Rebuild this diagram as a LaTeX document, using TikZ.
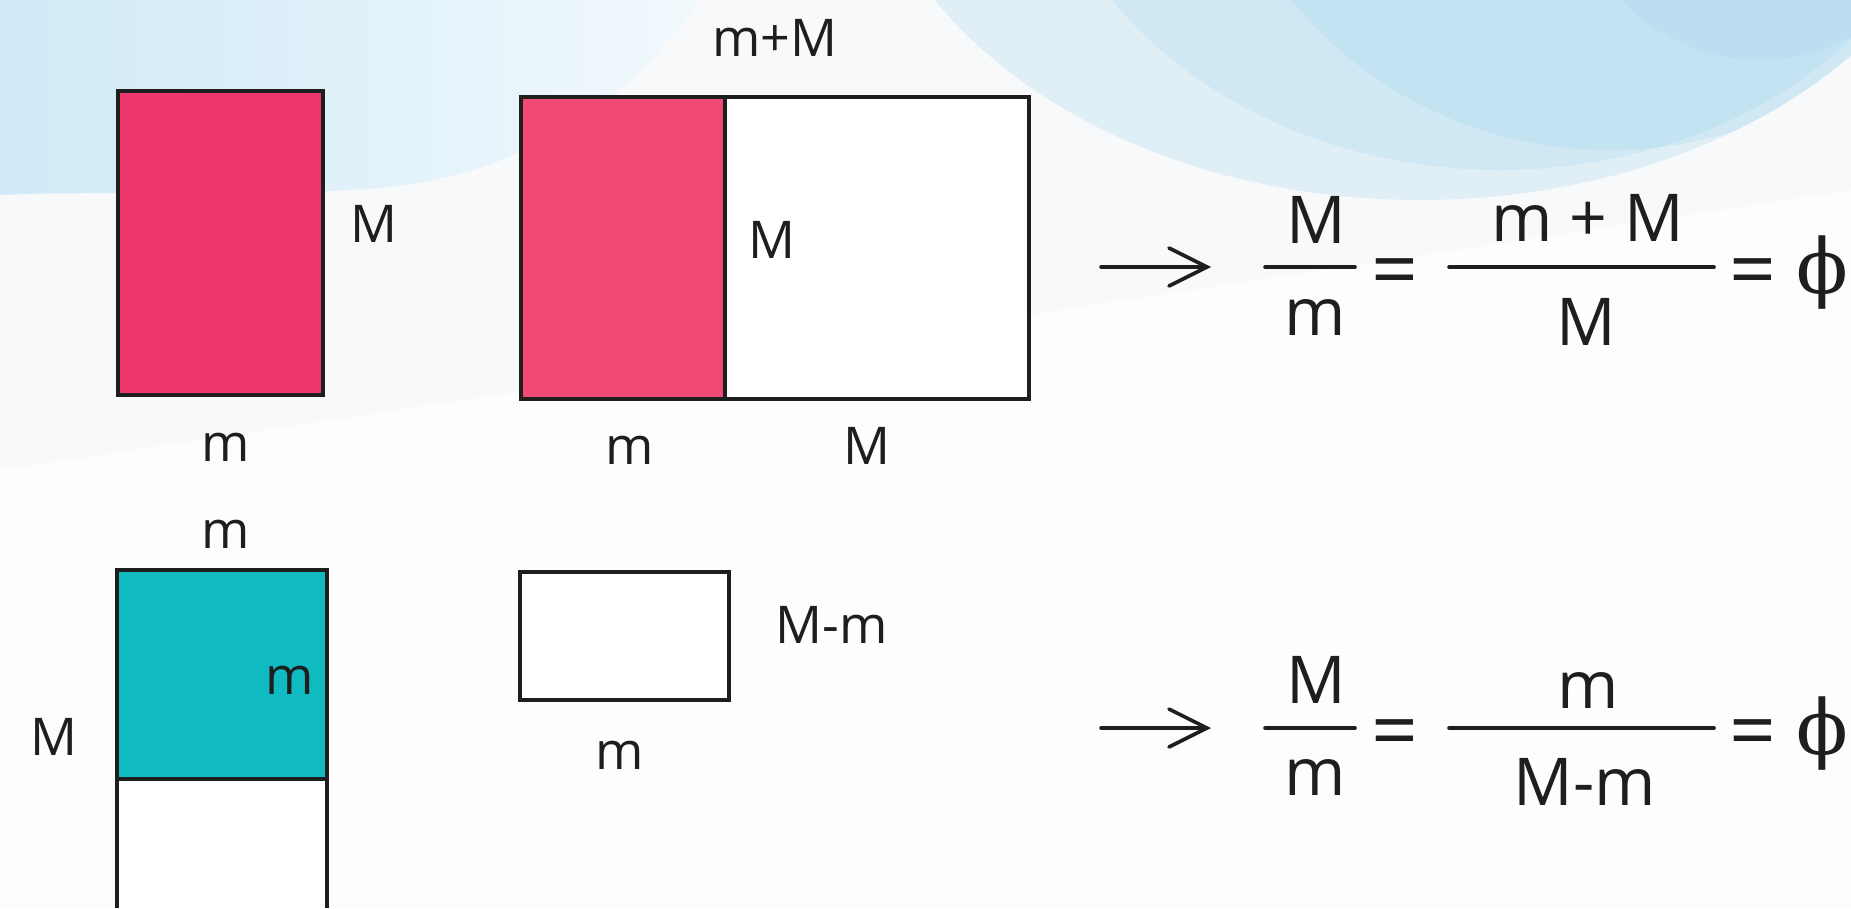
\documentclass[tikz,border=0pt]{standalone}
\usepackage{fontspec}
\setmainfont{Open Sans}
\newfontfamily\phifont{DejaVu Serif}
\usetikzlibrary{arrows.meta}
\definecolor{sketchink}{HTML}{1E1E1E}
\definecolor{goldpink}{HTML}{EE376D}
\definecolor{goldpinklight}{HTML}{F04973}
\definecolor{goldteal}{HTML}{0FBBC1}
\definecolor{washblue}{HTML}{A9D8F0}
\definecolor{haze}{HTML}{F8F9FA}
\definecolor{paper}{HTML}{FDFDFD}

\begin{document}
\begin{tikzpicture}[x=1pt,y=-1pt,
    lbl/.style={inner sep=0pt,text=sketchink,font=\fontsize{52}{56}\selectfont},
    eqn/.style={inner sep=0pt,text=sketchink,font=\fontsize{66}{70}\selectfont},
    eqsign/.style={inner sep=0pt,text=sketchink,font=\fontsize{82}{86}\selectfont},
    edge/.style={draw=sketchink,line width=3.2pt},
    fracbar/.style={draw=sketchink,line width=3.6pt,line cap=round},
    wash/.style={fill=washblue,opacity=.3}]
    \useasboundingbox (0,0) rectangle (1851,908);
    \fill[paper] (0,0) rectangle (1851,908);
    % watercolour in the background
    \fill[haze] (0,0) -- (1851,0) -- (1851,190) -- (0,470) -- cycle;
    \shade[left color=washblue!55!white,right color=washblue!16!white]
      (0,0) -- (700,0) .. controls (650,70) and (560,170) .. (380,188)
      .. controls (250,198) and (100,190) .. (0,195) -- cycle;
    \begin{scope}
      \clip (1420,-200) ellipse [x radius=560,y radius=400];
      \fill[wash] (1420,-200) ellipse [x radius=560,y radius=400];
      \fill[wash] (1500,-220) ellipse [x radius=470,y radius=390];
      \fill[wash] (1610,-230) ellipse [x radius=400,y radius=380];
      \fill[wash] (1760,-130) circle [radius=190];
    \end{scope}
    % first row: rectangles
    \filldraw[edge,fill=goldpink] (118,91) rectangle (323,395);
    \filldraw[edge,fill=goldpinklight] (521,97) rectangle (725,399);
    \filldraw[edge,fill=white] (725,97) rectangle (1029,399);
    \node[lbl] (sideA) at (374,224) {M};
    \node[lbl] (baseA) at (226,447) {m};
    \node[lbl] (topB) at (775,38) {m+M};
    \node[lbl] (sideB) at (772,240) {M};
    \node[lbl] (baseB) at (630,450) {m};
    \node[lbl] (baseC) at (867,446) {M};
    % second row: rectangles
    \filldraw[edge,fill=goldteal] (117,570) rectangle (327,779);
    \filldraw[edge,fill=white] (117,908) -- (117,779) -- (327,779) -- (327,908);
    \filldraw[edge,fill=white] (520,572) rectangle (729,700);
    \node[lbl] (topD) at (226,534) {m};
    \node[lbl] (innerD) at (290,680) {m};
    \node[lbl] (sideD) at (54,737) {M};
    \node[lbl] (sideE) at (832,625) {M-m};
    \node[lbl] (baseE) at (620,755) {m};
    % first ratio
    \coordinate (arrA) at (1101,267);
    \coordinate (arrB) at (1211,267);
    \draw[fracbar,-{Straight Barb[length=38pt,width=38pt,line cap=round]}] (arrA) -- (arrB);
    \node[eqn] (numA) at (1316,220) {M};
    \node[eqn] (denA) at (1315,318) {m};
    \draw[fracbar] (1265,267) -- (1355,267);
    \node[eqsign] (eqA) at (1395,279) {=};
    \node[eqn] (numB) at (1588,218) {m + M};
    \node[eqn] (denB) at (1586,322) {M};
    \draw[fracbar] (1449,267) -- (1714,267);
    \node[eqsign] (eqB) at (1753,279) {=};
    \node[eqn,font=\fontsize{76}{80}\phifont] (phiA) at (1822,273) {ϕ};
    % second ratio
    \coordinate (arrC) at (1101,728);
    \coordinate (arrD) at (1211,728);
    \draw[fracbar,-{Straight Barb[length=38pt,width=38pt,line cap=round]}] (arrC) -- (arrD);
    \node[eqn] (numC) at (1316,680) {M};
    \node[eqn] (denC) at (1315,778) {m};
    \draw[fracbar] (1265,728) -- (1355,728);
    \node[eqsign] (eqC) at (1395,740) {=};
    \node[eqn] (numD) at (1588,691) {m};
    \node[eqn] (denD) at (1585,782) {M-m};
    \draw[fracbar] (1449,728) -- (1714,728);
    \node[eqsign] (eqD) at (1753,740) {=};
    \node[eqn,font=\fontsize{76}{80}\phifont] (phiB) at (1822,734) {ϕ};
\end{tikzpicture}
\end{document}
